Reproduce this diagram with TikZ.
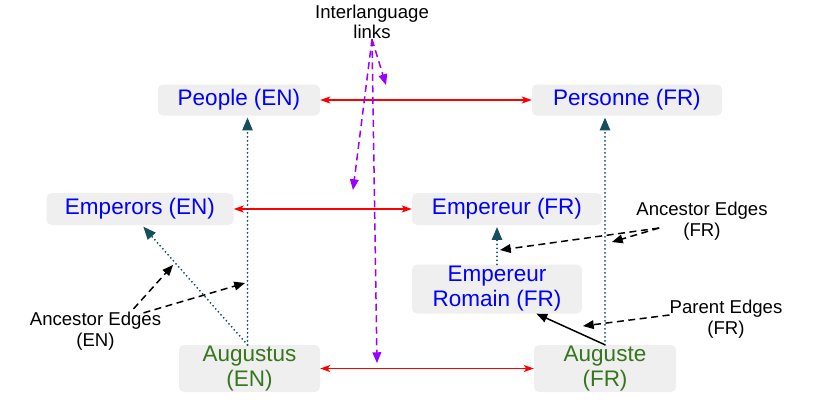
\documentclass[tikz,border=0pt]{standalone}
\usepackage{fontspec}
\setmainfont{Liberation Sans}
\usepackage{xcolor}
\usetikzlibrary{arrows}
\usetikzlibrary{arrows.meta}
\usetikzlibrary{calc}
\definecolor{boxgray}{HTML}{EFEFEF}
\definecolor{artgreen}{HTML}{38761D}
\definecolor{linkred}{HTML}{FF0000}
\definecolor{ilpurple}{HTML}{9900FF}
\definecolor{edgeteal}{HTML}{134F5C}

\begin{document}
\begin{tikzpicture}[x=1pt,y=-1pt,
    cat/.style={fill=boxgray,rounded corners=5pt,text=blue,align=center,
      inner sep=0pt,font=\fontsize{22.5}{25}\selectfont},
    art/.style={cat,text=artgreen},
    lbl/.style={align=center,inner sep=0pt,font=\fontsize{18.6}{20.5}\selectfont},
    ill/.style={linkred,line width=1.6pt,
      {Stealth[length=10pt,width=7pt,inset=2.5pt]}-{Stealth[length=10pt,width=7pt,inset=2.5pt]}},
    anc/.style={edgeteal,line width=2pt,line cap=round,
      dash pattern=on 0pt off 4pt,-triangle 45},
    par/.style={black,line width=1.5pt,-triangle 45},
    note/.style={black,line width=1.5pt,dash pattern=on 7pt off 4.5pt,-triangle 45},
    inote/.style={note,ilpurple}]
    \useasboundingbox (0,0) rectangle (815,407);

    % categories
    \node[cat,minimum width=162pt,minimum height=31pt] (people) at (239,100) {People (EN)};
    \node[cat,minimum width=190pt,minimum height=31pt] (personne) at (627,100) {Personne (FR)};
    \node[cat,minimum width=187pt,minimum height=32pt] (emperors) at (140,209) {Emperors (EN)};
    \node[cat,minimum width=190pt,minimum height=32pt] (empereur) at (507,209) {Empereur (FR)};
    \node[cat,minimum width=170pt,minimum height=49pt] (romain) at (497,289) {Empereur\\Romain (FR)};

    % articles
    \node[art,minimum width=141pt,minimum height=47pt] (augustus) at (249.5,368.5) {Augustus\\(EN)};
    \node[art,minimum width=142pt,minimum height=47pt] (auguste) at (605,368.5) {Auguste\\(FR)};

    % labels
    \node[lbl] (ilinks) at (372,22) {Interlanguage\\links};
    \node[lbl] (ancen) at (95.5,331) {Ancestor Edges\\(EN)};
    \node[lbl] (ancfr) at (702,221) {Ancestor Edges\\(FR)};
    \node[lbl] (parfr) at (726,319) {Parent Edges\\(FR)};

    % interlanguage links
    \draw[ill] (people) -- (personne);
    \draw[ill] (emperors) -- (empereur);
    \draw[ill] (augustus) -- (auguste);

    % edges
    \draw[anc,shorten >=2pt] ([xshift=-2pt]augustus.north) -- ([xshift=-2pt]augustus.north |- people.south);
    \draw[anc,shorten >=2pt] ([xshift=-2pt]augustus.north) -- ([xshift=2pt]emperors.south);
    \draw[anc,shorten >=2pt] (auguste.north) -- (auguste.north |- personne.south);
    \draw[anc,shorten >=2pt] (romain.north) -- (romain.north |- empereur.south);
    \draw[par] (auguste.north) -- (romain.-32);

    % notes
    \coordinate (en1) at (173,265);
    \coordinate (en2) at (245,283);
    \coordinate (fr1) at (500,250);
    \coordinate (fr2) at (612,242);
    \coordinate (pa1) at (583,326);
    \coordinate (il1) at (353,190);
    \coordinate (il2) at (386,85);
    \coordinate (il3) at (377,363);
    \draw[note] ($(ancen.north)+(38,-3)$) -- (en1);
    \draw[note] ($(ancen.north)+(48,1)$) -- (en2);
    \draw[note] ($(ancfr.west)+(23,7)$) -- (fr1);
    \draw[note] ($(ancfr.west)+(23,7)$) -- (fr2);
    \draw[note] ($(parfr.west)+(0,-4)$) -- (pa1);
    \draw[inote] (ilinks.south) -- (il1);
    \draw[inote] (ilinks.south) -- (il2);
    \draw[inote] (ilinks.south) -- (il3);
\end{tikzpicture}
\end{document}
